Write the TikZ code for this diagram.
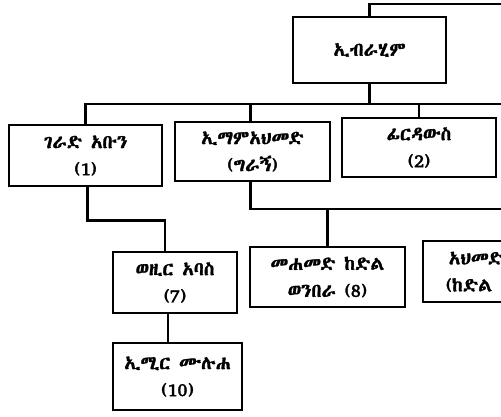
\documentclass[tikz,border=0pt]{standalone}
\usepackage{fontspec}
\IfFontExistsTF{Abyssinica SIL}{\newfontfamily\ethfont[AutoFakeBold=1.6]{Abyssinica SIL}}{%
\IfFontExistsTF{FreeSerif}{\newfontfamily\ethfont[AutoFakeBold=1.6]{FreeSerif}}{%
\IfFontExistsTF{FreeSans}{\newfontfamily\ethfont[AutoFakeBold=1.6]{FreeSans}}{%
\newfontfamily\ethfont{DejaVu Sans}}}}
\usetikzlibrary{positioning}

\begin{document}
\begin{tikzpicture}[x=1pt,y=-1pt]
\tikzstyle{box}=[draw,line width=2.8pt,inner sep=1pt,align=center,font=\ethfont\bfseries\fontsize{19}{27}\selectfont]
\tikzstyle{link}=[line width=2.8pt]
\useasboundingbox (0,0) rectangle (501,416);
\clip (0,0) rectangle (501,416);
\foreach \name/\point/\bw/\bh/\txt in {
	top/{369.5,50}/153/66/{ኢብራሂም},
	b1/{85.5,155.5}/153/61/{ገራድ አቡን\\(1)},
	b2/{252.5,151.5}/155/59/{ኢማምአህመድ\\(ግራኝ)},
	b3/{419,147.5}/154/59/{ፊርዳውስ\\(2)},
	b7/{175,282.5}/124/61/{ወዚር አባስ\\(7)},
	b8/{327.5,277}/155/60/{መሐመድ ከድል\\ወንበራ (8)},
	b9/{500.5,271.5}/155/61/{አህመድ ከድል\\(ከድል ወንበራ)},
	b10/{177.5,376.5}/129/67/{ኢሚር ሙሉሐ\\(10)}}
	\node[box,minimum width=\bw pt,minimum height=\bh pt] (\name) at (\point) {\txt};
\coordinate (topend) at (501,4);
\coordinate (bus1) at (501,104);
\coordinate (bus2) at (501,209);
\draw[link] (top.north) |- (topend);
\draw[link] (top.south) -- (top.south |- bus1);
\draw[link] (b1.north) |- (bus1);
\draw[link] ([xshift=-2pt]b2.north) -- ([xshift=-2pt]b2.north |- bus1);
\draw[link] (b3.north) -- (b3.north |- bus1);
\draw[link] ([xshift=2pt]b1.south) -- ++(0,33) -| ([xshift=-10pt]b7.north);
\draw[link] ([xshift=-7pt]b7.south) -- ([xshift=-7pt]b7.south |- b10.north);
\draw[link] ([xshift=-2pt]b2.south) |- (bus2);
\draw[link] (b8.north) -- (b8.north |- bus2);
\end{tikzpicture}
\end{document}
